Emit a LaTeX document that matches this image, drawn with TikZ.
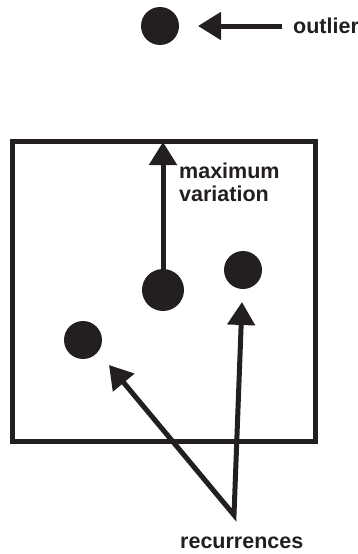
\documentclass[tikz,border=0pt]{standalone}
\usepackage{fontspec}
\setmainfont{Liberation Sans}
\usetikzlibrary{arrows.meta}
\definecolor{ink}{HTML}{231F20}
\begin{document}
\begin{tikzpicture}[x=1pt,y=-1pt,
  dot/.style={circle,fill=ink,inner sep=0pt,minimum size=#1},
  lbl/.style={anchor=base west,inner sep=0pt,text=ink,font=\fontsize{21.5}{24}\selectfont\bfseries,align=left},
  arr/.style={draw=ink,line width=5pt,-{Triangle[length=23pt,width=27pt]}},
  arrboth/.style={draw=ink,line width=5pt,line join=miter,{Triangle[length=23pt,width=27pt]}-{Triangle[length=23pt,width=27pt]}},
  frame/.style={draw=ink,line width=5pt}]
\useasboundingbox (0,0) rectangle (358,554);
% box
\node[frame,minimum width=303pt,minimum height=300pt,inner sep=0pt] (box) at (163.5,291) {};
% dots
\node[dot=38pt] (out) at (160,26) {};
\node[dot=42pt] (mid) at (163,290) {};
\node[dot=38pt] (rt) at (243,270) {};
\node[dot=38pt] (lt) at (83,340) {};
% labels
\node[lbl] (outlbl) at (293,33) {outlier};
\node[lbl] (mvlbl) at (179,201) {maximum\\[-1pt]variation};
\node[lbl] (reclbl) at (180,548) {recurrences};
% coordinates
\coordinate (otail) at (282,26);
\coordinate (otip) at (198,26);
\coordinate (mtip) at (163,142);
\coordinate (rec) at (234,515);
\coordinate (rtip) at (242,302);
\coordinate (ltip) at (109,365);
% arrows
\draw[arr] (otail) -- (otip);
\draw[arr] (mid.north) -- (mtip);
\draw[arrboth] (ltip) -- (rec) -- (rtip);
\end{tikzpicture}
\end{document}
